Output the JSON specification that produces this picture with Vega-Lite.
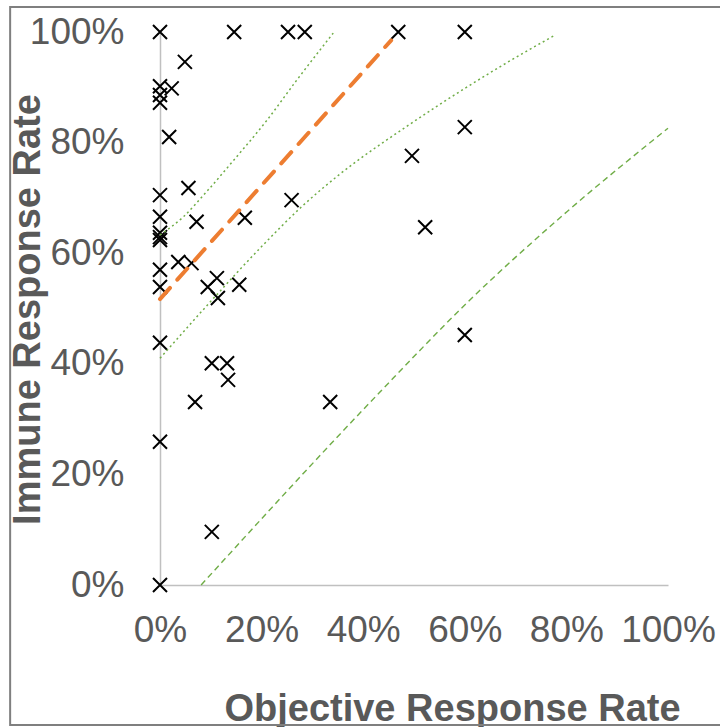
{
  "$schema": "https://vega.github.io/schema/vega-lite/v6.json",
  "autosize": {"type": "none"},
  "width": 508,
  "height": 553,
  "padding": {"left": 160, "top": 32, "right": 52, "bottom": 142},
  "background": "white",
  "config": {
    "view": {"stroke": null},
    "axis": {
      "grid": false,
      "ticks": false,
      "tickSize": 0,
      "domainColor": "#c0c0c0",
      "domainWidth": 1.5,
      "labelFont": "Liberation Sans",
      "labelFontSize": 37,
      "labelColor": "#595959",
      "labelOverlap": false,
      "labelBound": false,
      "titleFont": "Liberation Sans",
      "titleFontSize": 38,
      "titleFontWeight": "bold",
      "titleColor": "#595959"
    }
  },
  "datasets": {
    "pts": [
      {"orr": 0, "irr": 1.0}, {"orr": 0.146, "irr": 1.0}, {"orr": 0.252, "irr": 1.0}, {"orr": 0.285, "irr": 1.0},
      {"orr": 0.469, "irr": 1.0}, {"orr": 0.6, "irr": 1.0}, {"orr": 0.049, "irr": 0.946}, {"orr": 0, "irr": 0.902},
      {"orr": 0.023, "irr": 0.898}, {"orr": 0, "irr": 0.886}, {"orr": 0, "irr": 0.872}, {"orr": 0.018, "irr": 0.81},
      {"orr": 0.6, "irr": 0.828}, {"orr": 0.496, "irr": 0.776}, {"orr": 0, "irr": 0.705}, {"orr": 0.056, "irr": 0.718},
      {"orr": 0.259, "irr": 0.696}, {"orr": 0, "irr": 0.666}, {"orr": 0.072, "irr": 0.657}, {"orr": 0.167, "irr": 0.664},
      {"orr": 0.522, "irr": 0.647}, {"orr": 0, "irr": 0.637}, {"orr": 0, "irr": 0.629}, {"orr": 0, "irr": 0.624},
      {"orr": 0.036, "irr": 0.584}, {"orr": 0.062, "irr": 0.582}, {"orr": 0, "irr": 0.57}, {"orr": 0, "irr": 0.539},
      {"orr": 0.094, "irr": 0.539}, {"orr": 0.112, "irr": 0.555}, {"orr": 0.114, "irr": 0.519}, {"orr": 0.156, "irr": 0.543},
      {"orr": 0, "irr": 0.438}, {"orr": 0.102, "irr": 0.401}, {"orr": 0.132, "irr": 0.401}, {"orr": 0.134, "irr": 0.371},
      {"orr": 0.069, "irr": 0.331}, {"orr": 0.335, "irr": 0.331}, {"orr": 0.6, "irr": 0.452}, {"orr": 0, "irr": 0.259},
      {"orr": 0.102, "irr": 0.096}, {"orr": 0, "irr": 0}
    ],
    "upper": [
      {"orr": 0, "irr": 0.633}, {"orr": 0.045, "irr": 0.665}, {"orr": 0.0925, "irr": 0.712}, {"orr": 0.144, "irr": 0.767},
      {"orr": 0.211, "irr": 0.841}, {"orr": 0.27, "irr": 0.914}, {"orr": 0.341, "irr": 0.998}
    ],
    "lower": [
      {"orr": 0, "irr": 0.41}, {"orr": 0.1, "irr": 0.513}, {"orr": 0.2, "irr": 0.612}, {"orr": 0.28, "irr": 0.685},
      {"orr": 0.35, "irr": 0.74}, {"orr": 0.49, "irr": 0.832}, {"orr": 0.6, "irr": 0.898}, {"orr": 0.68, "irr": 0.943},
      {"orr": 0.775, "irr": 0.993}
    ],
    "outer": [
      {"orr": 0.081, "irr": 0}, {"orr": 0.433, "irr": 0.349}, {"orr": 0.604, "irr": 0.51},
      {"orr": 0.801, "irr": 0.675}, {"orr": 1.0, "irr": 0.826}
    ],
    "fit": [
      {"orr": 0, "irr": 0.517}, {"orr": 0.455, "irr": 0.985}
    ]
  },
  "layer": [
    {
      "data": {"values": [{}]},
      "mark": {"type": "rect", "fill": null, "stroke": "#7f7f7f", "strokeWidth": 2, "clip": false},
      "encoding": {
        "x": {"datum": -0.295, "type": "quantitative", "scale": {"domain": [0, 1], "nice": false}},
        "x2": {"datum": 1.2},
        "y": {"datum": 1.045, "type": "quantitative", "scale": {"domain": [0, 1], "nice": false}},
        "y2": {"datum": -0.253}
      }
    },
    {
      "data": {"name": "pts"},
      "mark": {"type": "point", "shape": "M-1,-1L1,1M-1,1L1,-1", "filled": false, "stroke": "black", "strokeWidth": 2, "size": 196, "opacity": 1},
      "encoding": {
        "x": {"field": "orr", "type": "quantitative", "scale": {"domain": [0, 1], "nice": false},
          "axis": {"title": "Objective Response Rate", "values": [0, 0.2, 0.4, 0.6, 0.8, 1], "format": ".0%", "labelFlush": false, "labelPadding": 27,
            "titleX": 292, "titleY": 135, "titleAlign": "center", "titleBaseline": "alphabetic"}},
        "y": {"field": "irr", "type": "quantitative", "scale": {"domain": [0, 1], "nice": false},
          "axis": {"title": "Immune Response Rate", "values": [0, 0.2, 0.4, 0.6, 0.8, 1], "format": ".0%", "labelFlush": false, "labelPadding": 36,
            "titleX": -121, "titleY": 277, "titleAngle": 270, "titleAlign": "center", "titleBaseline": "alphabetic"}}
      }
    },
    {
      "data": {"name": "upper"},
      "mark": {"type": "line", "color": "#70AD47", "strokeWidth": 1.5, "strokeDash": [2, 3], "interpolate": "monotone"},
      "encoding": {"x": {"field": "orr", "type": "quantitative"}, "y": {"field": "irr", "type": "quantitative"}}
    },
    {
      "data": {"name": "lower"},
      "mark": {"type": "line", "color": "#70AD47", "strokeWidth": 1.5, "strokeDash": [2, 3], "interpolate": "monotone"},
      "encoding": {"x": {"field": "orr", "type": "quantitative"}, "y": {"field": "irr", "type": "quantitative"}}
    },
    {
      "data": {"name": "outer"},
      "mark": {"type": "line", "color": "#70AD47", "strokeWidth": 1.4, "strokeDash": [6, 4], "interpolate": "monotone"},
      "encoding": {"x": {"field": "orr", "type": "quantitative"}, "y": {"field": "irr", "type": "quantitative"}}
    },
    {
      "data": {"name": "fit"},
      "mark": {"type": "line", "color": "#ED7D31", "strokeWidth": 4, "strokeDash": [15, 11], "strokeCap": "round"},
      "encoding": {"x": {"field": "orr", "type": "quantitative"}, "y": {"field": "irr", "type": "quantitative"}}
    }
  ]
}
